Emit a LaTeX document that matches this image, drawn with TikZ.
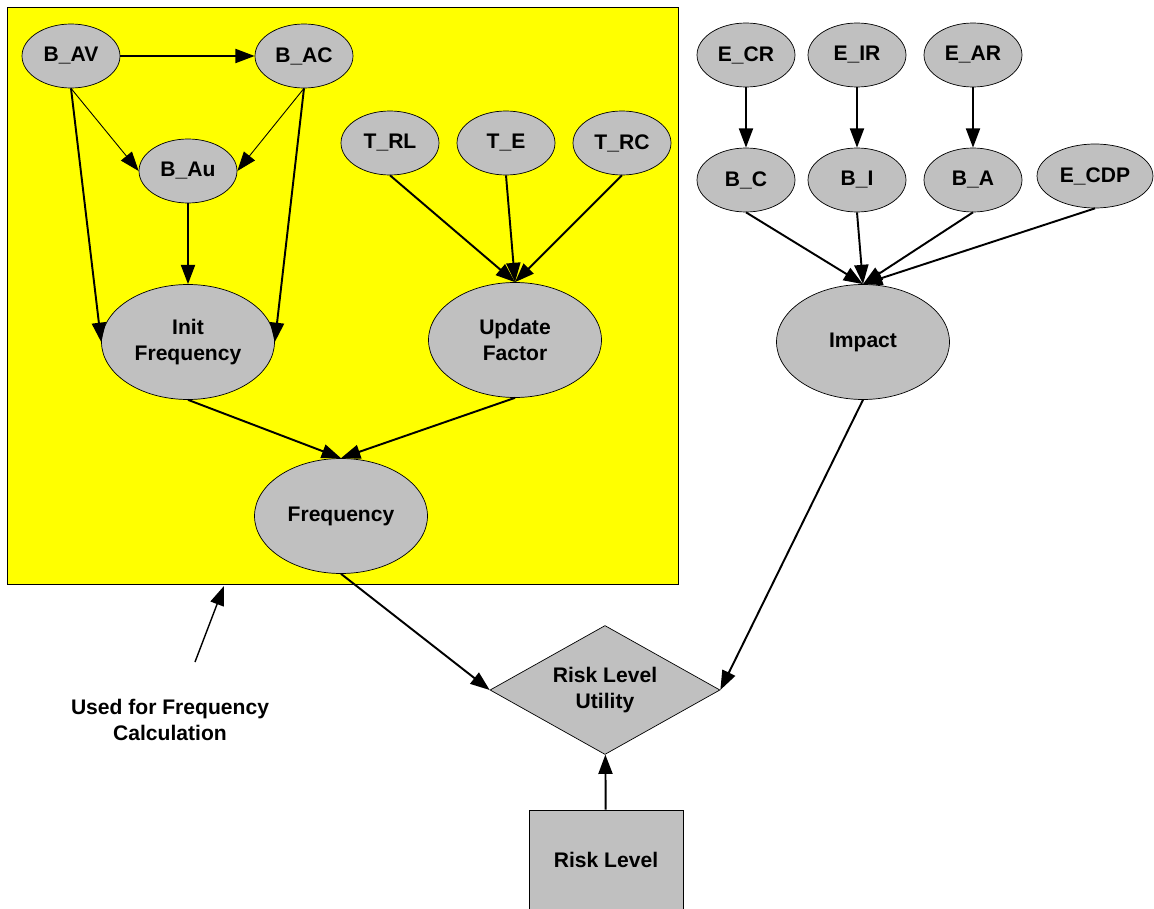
\documentclass[tikz,border=0pt]{standalone}
\usepackage{fontspec}
\setmainfont{Liberation Sans}
\usetikzlibrary{shapes.geometric,arrows.meta}
\definecolor{nodegray}{RGB}{192,192,192}
\definecolor{boxyellow}{RGB}{255,255,0}

\begin{document}
\begin{tikzpicture}[x=0.02cm,y=-0.02cm,
	every node/.style={font=\fontsize{12}{14.7}\selectfont\bfseries,align=center},
	small/.style={ellipse,draw,fill=nodegray,inner sep=0pt,minimum width=1.96cm,minimum height=1.28cm},
	big/.style={ellipse,draw,fill=nodegray,inner sep=0pt,minimum width=3.46cm,minimum height=2.3cm},
	edge/.style={-{Triangle[length=11pt,width=8pt]},line width=1.1pt},
	thinedge/.style={-{Triangle[length=11pt,width=8pt]},line width=0.5pt}]
	\useasboundingbox (0,0) rectangle (1154,909);
	\draw[fill=boxyellow] (7,7) rectangle (678,584);
	\node[small] (bav) at (71,56) {B\_AV};
	\node[small] (bac) at (304,56) {B\_AC};
	\node[small] (bau) at (188,171) {B\_Au};
	\node[small] (trl) at (390,143) {T\_RL};
	\node[small] (te) at (506,143) {T\_E};
	\node[small] (trc) at (622,143) {T\_RC};
	\node[big] (init) at (188,342) {Init\\Frequency};
	\node[big] (upd) at (515,340) {Update\\Factor};
	\node[big] (freq) at (341,516) {Frequency};
	\node[small] (ecr) at (746,55) {E\_CR};
	\node[small] (eir) at (857,55) {E\_IR};
	\node[small] (ear) at (973,55) {E\_AR};
	\node[small] (bc) at (746,180) {B\_C};
	\node[small] (bi) at (857,180) {B\_I};
	\node[small] (ba) at (973,180) {B\_A};
	\node[small,minimum width=2.32cm] (ecdp) at (1095,176) {E\_CDP};
	\node[big] (imp) at (863,342) {Impact};
	\node[diamond,aspect=1.78,draw,fill=nodegray,inner sep=0pt,minimum width=4.6cm,minimum height=2.58cm] (rlu) at (605,690) {Risk Level\\Utility};
	\node[draw,fill=nodegray,minimum width=3.08cm,minimum height=2cm] (rl) at (606,860) {Risk Level};
	\node (used) at (170,720) {Used for Frequency\\Calculation};
	\coordinate (tail) at (195,662);
	\coordinate (head) at (224,586);
	\draw[edge] (bav) -- (bac);
	\draw[thinedge] (bav.south) -- (bau.west);
	\draw[thinedge] (bac.south) -- (bau.east);
	\draw[edge] (bav.south) -- (init.west);
	\draw[edge] (bac.south) -- (init.east);
	\draw[edge] (bau) -- (init);
	\draw[edge] (trl.south) -- (upd.north);
	\draw[edge] (te.south) -- (upd.north);
	\draw[edge] (trc.south) -- (upd.north);
	\draw[edge] (init.south) -- (freq.north);
	\draw[edge] (upd.south) -- (freq.north);
	\draw[edge] (ecr) -- (bc);
	\draw[edge] (eir) -- (bi);
	\draw[edge] (ear) -- (ba);
	\draw[edge] (bc.south) -- (imp.north);
	\draw[edge] (bi.south) -- (imp.north);
	\draw[edge] (ba.south) -- (imp.north);
	\draw[edge] (ecdp.south) -- (imp.north);
	\draw[edge] (freq.south) -- (rlu.west);
	\draw[edge] (imp.south) -- (rlu.east);
	\draw[edge] (rl) -- (rlu);
	\draw[edge,line width=0.8pt] (tail) -- (head);
\end{tikzpicture}
\end{document}
